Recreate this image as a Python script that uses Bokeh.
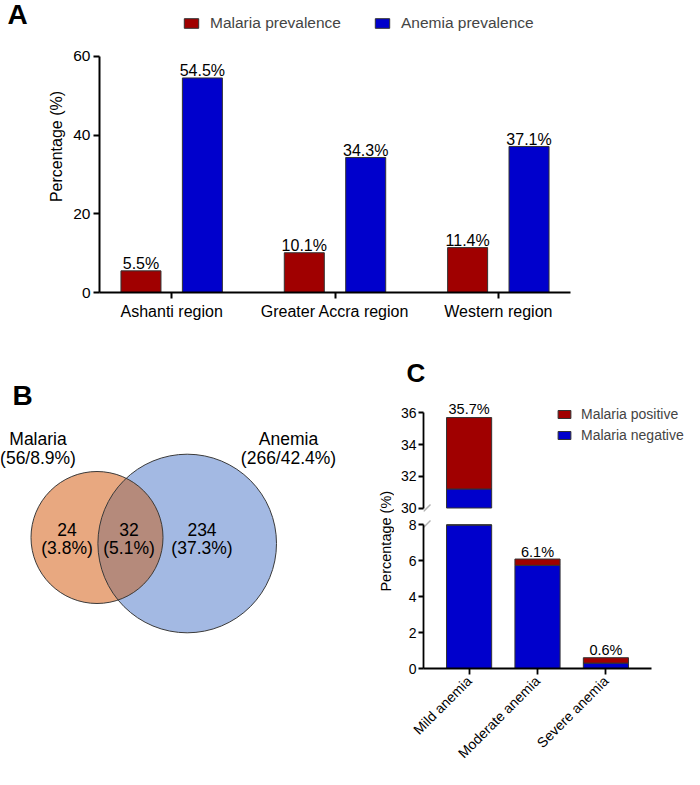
import numpy as np
from math import pi
from bokeh.plotting import figure
from bokeh.models import (ColumnDataSource, FactorRange, Range1d, FixedTicker,
                          Legend, LegendItem, PolyAnnotation)
from bokeh.transform import dodge
from bokeh.layouts import column, row
from bokeh.embed import file_html
from bokeh.resources import INLINE
from bokeh.core.properties import value

# ---------------- data ----------------
# Panel A
regions = ["Ashanti region", "Greater Accra region", "Western region"]
malaria_prev = [5.5, 10.1, 11.4]
anemia_prev = [54.5, 34.3, 37.1]
a_yticks = [0, 20, 40, 60]

# Panel B (Venn)
venn_sets = ["Malaria", "Anemia"]
venn_set_counts = [56, 266]
venn_set_pcts = [8.9, 42.4]
venn_region_counts = [24, 32, 234]
venn_region_pcts = [3.8, 5.1, 37.3]

# Panel C
severity = ["Mild anemia", "Moderate anemia", "Severe anemia"]
mal_neg = [31.2, 5.75, 0.3]
mal_pos = [4.5, 0.35, 0.3]
sev_total_lbl = [35.7, 6.1, 0.6]
c_upper_ticks = [30, 32, 34, 36]
c_lower_ticks = [0, 2, 4, 6, 8]

# ---------------- style ----------------
FONT = "Liberation Sans"
RED = "#A00000"
BLUE = "#0000CC"
EDGE = "#333333"
ORANGE = "#E8A880"
LBLUE = "#A3B9E3"
OVERLAP = "#B58A7B"


def clean(p):
    p.xgrid.visible = False
    p.ygrid.visible = False
    p.outline_line_color = None
    p.background_fill_color = "white"
    p.border_fill_color = "white"


def style_axis(ax, size, lw, tick_out=6, standoff=3):
    ax.axis_line_width = lw
    ax.axis_line_color = "black"
    ax.major_tick_line_width = lw
    ax.major_tick_line_color = "black"
    ax.major_tick_out = tick_out
    ax.major_tick_in = 0
    ax.minor_tick_out = 0
    ax.minor_tick_in = 0
    ax.major_label_standoff = standoff
    ax.major_label_text_font = FONT
    ax.major_label_text_font_size = size
    ax.major_label_text_color = "black"
    ax.axis_label_text_font = FONT
    ax.axis_label_text_font_style = "normal"
    ax.axis_label_text_color = "black"


def text_fig(w, h):
    f = figure(width=w, height=h, x_range=Range1d(0, w), y_range=Range1d(h, 0),
               x_axis_location=None, y_axis_location=None, min_border=0,
               output_backend="svg", toolbar_location=None)
    clean(f)
    return f


# ---------------- Panel A ----------------
pAlab = text_fig(40, 322)
pAlab.text(x=[7], y=[15], text=["A"], text_align="left", text_baseline="middle",
           text_font=value(FONT), text_font_size="28px", text_font_style="bold", text_color="black")

srcA = ColumnDataSource(dict(
    region=regions, malaria=malaria_prev, anemia=anemia_prev,
    mal_lbl=[f"{v}%" for v in malaria_prev], an_lbl=[f"{v}%" for v in anemia_prev]))
xA = FactorRange(factors=regions, range_padding=-0.0387)
A_TOP = a_yticks[-1] * 293 / 237.0   # frame reaches figure top; axis drawn only to 60
pA = figure(x_range=xA, y_range=Range1d(0, A_TOP), width=644, height=322,
            min_border_left=59, min_border_right=114, min_border_top=0, min_border_bottom=29,
            output_backend="svg", toolbar_location=None)
clean(pA)
OFF, BW = 0.188, 0.245
rm = pA.vbar(x=dodge("region", -OFF, range=xA), top="malaria", width=BW, source=srcA,
             fill_color=RED, line_color=EDGE, line_width=1)
ra = pA.vbar(x=dodge("region", OFF, range=xA), top="anemia", width=BW, source=srcA,
             fill_color=BLUE, line_color=EDGE, line_width=1)
for fld, lbl, off in (("malaria", "mal_lbl", -OFF), ("anemia", "an_lbl", OFF)):
    pA.text(x=dodge("region", off, range=xA), y=fld, text=lbl, source=srcA,
            text_align="center", text_baseline="middle", y_offset=-7,
            text_font=value(FONT), text_font_size="16px", text_color="black")
style_axis(pA.xaxis[0], "16px", 2, 6, 4)
style_axis(pA.yaxis[0], "15.5px", 2, 6, 3)
pA.yaxis.ticker = FixedTicker(ticks=a_yticks)
pA.yaxis.bounds = (a_yticks[0], a_yticks[-1])
pA.yaxis.axis_label = "Percentage (%)"
pA.yaxis.axis_label_text_font_size = "16px"
pA.yaxis.axis_label_standoff = 5
legA = Legend(items=[LegendItem(label="Malaria prevalence", renderers=[rm]),
                     LegendItem(label="Anemia prevalence", renderers=[ra])],
              orientation="horizontal", location=(83, 260), glyph_width=18, glyph_height=12,
              label_standoff=10, spacing=32, padding=0, margin=0, border_line_color=None,
              background_fill_alpha=0, label_text_font=FONT, label_text_font_size="15.5px")
pA.add_layout(legA)

# ---------------- Panel B (Venn) ----------------
pB = text_fig(364, 447)
CIRC = [(96.5, 215.0, 66.0), (186.7, 221.0, 89.3)]  # layout: malaria, anemia circles
SET_LABEL_XY = [(37.5, 116.5), (288.0, 116.5)]
REGION_LABEL_XY = [(66.5, 206.5), (128.5, 206.5), (201.5, 206.5)]
LINE2 = 18.5


def lens(c1, c2):
    (x1, y1, r1), (x2, y2, r2) = c1, c2

    def arc(xa, ya, ra, xb, yb, rb):
        phi = np.arctan2(yb - ya, xb - xa)
        t = np.linspace(phi - np.pi, phi + np.pi, 3000)
        px, py = xa + ra * np.cos(t), ya + ra * np.sin(t)
        m = (px - xb) ** 2 + (py - yb) ** 2 <= rb ** 2
        return px[m], py[m]
    ax_, ay_ = arc(x1, y1, r1, x2, y2, r2)
    bx_, by_ = arc(x2, y2, r2, x1, y1, r1)
    return list(ax_) + list(bx_), list(ay_) + list(by_)


pB.circle(x=[CIRC[1][0]], y=[CIRC[1][1]], radius=[CIRC[1][2]], fill_color=LBLUE, line_color=None)
pB.circle(x=[CIRC[0][0]], y=[CIRC[0][1]], radius=[CIRC[0][2]], fill_color=ORANGE, line_color=None)
lx, ly = lens(CIRC[0], CIRC[1])
pB.patch(lx, ly, fill_color=OVERLAP, line_color=None)
pB.circle(x=[c[0] for c in CIRC], y=[c[1] for c in CIRC], radius=[c[2] for c in CIRC],
          fill_color=None, line_color="#3a3a3a", line_width=1)

tB = dict(text_align="center", text_baseline="middle", text_font=value(FONT),
          text_font_size="17.5px", text_color="black")
pB.text(x=[p[0] for p in SET_LABEL_XY], y=[p[1] for p in SET_LABEL_XY], text=venn_sets, **tB)
pB.text(x=[p[0] for p in SET_LABEL_XY], y=[p[1] + LINE2 for p in SET_LABEL_XY],
        text=[f"({c}/{v}%)" for c, v in zip(venn_set_counts, venn_set_pcts)], **tB)
pB.text(x=[p[0] for p in REGION_LABEL_XY], y=[p[1] for p in REGION_LABEL_XY],
        text=[str(c) for c in venn_region_counts], **tB)
pB.text(x=[p[0] for p in REGION_LABEL_XY], y=[p[1] + LINE2 for p in REGION_LABEL_XY],
        text=[f"({v}%)" for v in venn_region_pcts], **tB)
pB.text(x=[12], y=[73], text=["B"], text_align="left", text_baseline="middle",
        text_font=value(FONT), text_font_size="28px", text_font_style="bold", text_color="black")

# ---------------- Panel C ----------------
pChead = text_fig(320, 72)
pChead.text(x=[42], y=[50], text=["C"], text_align="left", text_baseline="middle",
            text_font=value(FONT), text_font_size="26px", text_font_style="bold", text_color="black")

pClab = text_fig(30, 375)
pClab.text(x=[21.5], y=[146.7], text=["Percentage (%)"], angle=pi / 2,
           text_align="center", text_baseline="middle", text_font=value(FONT),
           text_font_size="14.5px", text_color="black")

CW = 0.66
C_PAD = 0.111
C_TICK_FS = "14px"
BREAK_GAP = 8.5          # px between a segment's break value and its frame edge
lblC = [f"{v}%" for v in sev_total_lbl]
tops = [n + p for n, p in zip(mal_neg, mal_pos)]
BREAK_LO, BREAK_HI = c_upper_ticks[0], c_lower_ticks[-1]

# lower segment (0-8), categorical x axis
xC = FactorRange(factors=severity, range_padding=C_PAD)
C_LOW_TOP = BREAK_HI * 153 / (153 - BREAK_GAP)
pCl = figure(x_range=xC, y_range=Range1d(0, C_LOW_TOP), width=290, height=253,
             min_border_left=29, min_border_right=33, min_border_top=0, min_border_bottom=100,
             output_backend="svg", toolbar_location=None)
clean(pCl)
srcCl = ColumnDataSource(dict(sev=severity,
                              neg_c=[min(v, BREAK_HI) for v in mal_neg],
                              top_c=[min(t, BREAK_HI) for t in tops]))
pCl.vbar(x="sev", bottom=0, top="neg_c", width=CW, source=srcCl,
         fill_color=BLUE, line_color=EDGE, line_width=1)
pCl.vbar(x="sev", bottom="neg_c", top="top_c", width=CW, source=srcCl,
         fill_color=RED, line_color=EDGE, line_width=1)
style_axis(pCl.yaxis[0], C_TICK_FS, 1.8, 5, 2)
style_axis(pCl.xaxis[0], "14px", 1.8, 6, 4)
pCl.yaxis.ticker = FixedTicker(ticks=c_lower_ticks)
pCl.yaxis.bounds = (c_lower_ticks[0], c_lower_ticks[-1])
pCl.xaxis.major_label_orientation = pi / 4
lo_idx = [i for i, t in enumerate(tops) if t <= BREAK_HI]
pCl.text(x=[severity[i] for i in lo_idx], y=[tops[i] for i in lo_idx], text=[lblC[i] for i in lo_idx],
         text_align="center", text_baseline="middle", y_offset=-7.5,
         text_font=value(FONT), text_font_size="14.5px", text_color="black")
pCl.add_layout(PolyAnnotation(xs=[0, 7], ys=[141, 148], xs_units="screen", ys_units="screen",
                              fill_alpha=0, line_color="black", line_width=1.5))

# upper segment (30-36): no x axis; index coordinates matched to the lower factor range
half = C_PAD * len(severity) / 2
u_start = -0.5 - half
px_per_unit = 228 / (len(severity) + 2 * half)
u_end = u_start + 121 / px_per_unit
px_u = (c_upper_ticks[-1] - c_upper_ticks[0]) / (122 - 18.3 - BREAK_GAP)
pCu = figure(x_range=Range1d(u_start, u_end),
             y_range=Range1d(BREAK_LO - BREAK_GAP * px_u, c_upper_ticks[-1] + 18.3 * px_u),
             width=150, height=122,
             min_border_left=29, min_border_right=0, min_border_top=0, min_border_bottom=0,
             x_axis_location=None, output_backend="svg", toolbar_location=None)
clean(pCu)
up_idx = [i for i, t in enumerate(tops) if t > BREAK_LO]
srcCu = ColumnDataSource(dict(xi=up_idx, b0=[BREAK_LO] * len(up_idx),
                              neg=[mal_neg[i] for i in up_idx], top=[tops[i] for i in up_idx],
                              lbl=[lblC[i] for i in up_idx]))
pCu.vbar(x="xi", bottom="b0", top="neg", width=CW, source=srcCu,
         fill_color=BLUE, line_color=EDGE, line_width=1)
pCu.vbar(x="xi", bottom="neg", top="top", width=CW, source=srcCu,
         fill_color=RED, line_color=EDGE, line_width=1)
pCu.text(x="xi", y="top", text="lbl", source=srcCu, text_align="center", text_baseline="middle",
         y_offset=-9, text_font=value(FONT), text_font_size="14.5px", text_color="black")
style_axis(pCu.yaxis[0], C_TICK_FS, 1.8, 5, 2)
pCu.yaxis.ticker = FixedTicker(ticks=c_upper_ticks)
pCu.yaxis.bounds = (c_upper_ticks[0], c_upper_ticks[-1])
pCu.add_layout(PolyAnnotation(xs=[0, 7], ys=[5, 12], xs_units="screen", ys_units="screen",
                              fill_alpha=0, line_color="black", line_width=1.5))

# legend panel for C: key swatches (degenerate, invisible rects carrying the segment styles)
pCleg = figure(width=140, height=122, x_range=Range1d(0, 1), y_range=Range1d(0, 1),
               x_axis_location=None, y_axis_location=None, min_border=0,
               output_backend="svg", toolbar_location=None)
clean(pCleg)
k_pos = pCleg.vbar(x=[0.5], bottom=[0], top=[0], width=0, fill_color=RED,
                   line_color=EDGE, line_width=1)
k_neg = pCleg.vbar(x=[0.5], bottom=[0], top=[0], width=0, fill_color=BLUE,
                   line_color=EDGE, line_width=1)
legC = Legend(items=[LegendItem(label="Malaria positive", renderers=[k_pos]),
                     LegendItem(label="Malaria negative", renderers=[k_neg])],
              location=(12, 71), glyph_width=16, glyph_height=10, label_standoff=9,
              label_height=20, spacing=1, padding=0, margin=0, border_line_color=None,
              background_fill_alpha=0, label_text_font=FONT, label_text_font_size="14px")
pCleg.add_layout(legC)

layout = column(row(pAlab, pA),
                row(pB, column(pChead,
                               row(pClab, column(row(pCu, pCleg), pCl)))))
open("out.html", "w").write(file_html(layout, INLINE))
